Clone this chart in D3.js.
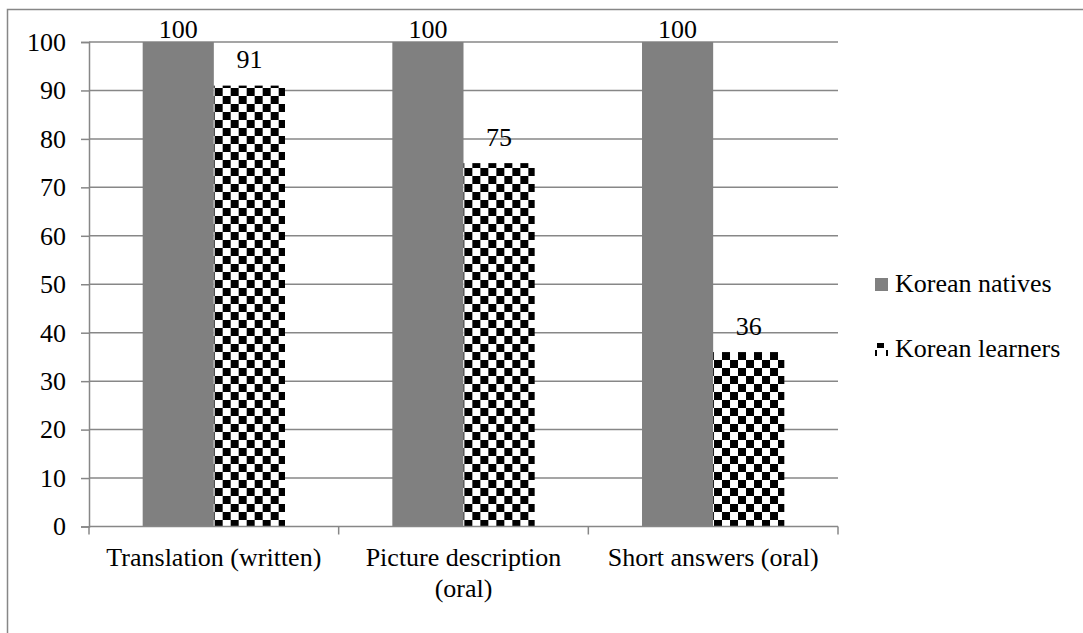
<!DOCTYPE html>
<html>
<head>
<meta charset="utf-8">
<script src="https://cdn.jsdelivr.net/npm/d3@7"></script>
<style>
  body { margin: 0; background: #fff; }
  svg text { font-family: "Liberation Serif", Tinos, "Times New Roman", Times, "DejaVu Serif", serif; fill: #000; }
</style>
</head>
<body>
<div id="viz"></div>
<script>
var categories = ["Translation (written)", "Picture description (oral)", "Short answers (oral)"];
var series = ["Korean natives", "Korean learners"];
var natives = [100, 100, 100];
var learners = [91, 75, 36];
var yTicks = [0, 10, 20, 30, 40, 50, 60, 70, 80, 90, 100];

var width = 1083,
    height = 633,
    fontSize = 26,
    serif = "'Liberation Serif', Tinos, 'Times New Roman', Times, 'DejaVu Serif', serif",
    grid = "#878787";

var plot = {left: 89, right: 838, top: 42, bottom: 526.5};

var svg = d3.select("#viz").append("svg")
    .attr("width", width)
    .attr("height", height)
    .attr("font-family", serif);

// checker pattern for learners
var defs = svg.append("defs");
var pat = defs.append("pattern")
    .attr("id", "checker")
    .attr("patternUnits", "userSpaceOnUse")
    .attr("width", 16)
    .attr("height", 16);
pat.append("rect").attr("width", 16).attr("height", 16).attr("fill", "#fff");
pat.append("rect").attr("width", 8).attr("height", 8).attr("fill", "#000");
pat.append("rect").attr("x", 8).attr("y", 8).attr("width", 8).attr("height", 8).attr("fill", "#000");

var legendPat = defs.append("pattern")
    .attr("id", "checkerLegend")
    .attr("patternUnits", "userSpaceOnUse")
    .attr("x", 875).attr("y", 343)
    .attr("width", 16)
    .attr("height", 16);
legendPat.append("rect").attr("width", 16).attr("height", 16).attr("fill", "#fff");
legendPat.append("rect").attr("width", 7).attr("height", 7).attr("fill", "#000");
legendPat.append("rect").attr("x", 7).attr("y", 7).attr("width", 7).attr("height", 7).attr("fill", "#000");

var fills = {"Korean natives": "#808080", "Korean learners": "url(#checker)"};
var legendFills = {"Korean natives": "#808080", "Korean learners": "url(#checkerLegend)"};

// outer chart border
svg.append("rect")
    .attr("x", 7.5).attr("y", 9.5)
    .attr("width", width + 10).attr("height", height + 10)
    .attr("fill", "none")
    .attr("stroke", grid)
    .attr("stroke-width", 1.5);

var y = d3.scaleLinear().domain([0, 100]).range([plot.bottom, plot.top]);

var x0 = d3.scaleBand()
    .domain(categories)
    .range([plot.left, plot.right])
    .paddingInner(0.43)
    .paddingOuter(0.215);

var x1 = d3.scaleBand()
    .domain(series)
    .range([0, x0.bandwidth()]);

// gridlines
svg.append("g")
    .selectAll("line")
    .data(yTicks.filter(function(d) { return d > 0; }))
    .enter().append("line")
    .attr("x1", plot.left)
    .attr("x2", plot.right)
    .attr("y1", function(d) { return y(d); })
    .attr("y2", function(d) { return y(d); })
    .attr("stroke", grid)
    .attr("stroke-width", 1.5);

// y axis
var yAxis = svg.append("g")
    .attr("transform", "translate(" + plot.left + ",0)")
    .call(d3.axisLeft(y).tickValues(yTicks).tickSize(8).tickPadding(15));
yAxis.attr("font-family", serif).attr("font-size", fontSize);
yAxis.select(".domain").attr("stroke", grid).attr("stroke-width", 1.5);
yAxis.selectAll(".tick line").attr("stroke", grid).attr("stroke-width", 1.5);
yAxis.selectAll(".tick text")
    .style("font-size", fontSize + "px")
    .attr("fill", "#000");

// bars
var rows = categories.map(function(c, i) {
    return {cat: c, vals: [{s: series[0], v: natives[i]}, {s: series[1], v: learners[i]}]};
});

var groups = svg.append("g")
    .selectAll("g")
    .data(rows)
    .enter().append("g")
    .attr("transform", function(d) { return "translate(" + x0(d.cat) + ",0)"; });

groups.selectAll("rect")
    .data(function(d) { return d.vals; })
    .enter().append("rect")
    .attr("x", function(d) { return x1(d.s); })
    .attr("y", function(d) { return y(d.v); })
    .attr("width", x1.bandwidth())
    .attr("height", function(d) { return y(0) - y(d.v); })
    .attr("fill", function(d) { return fills[d.s]; });

// value labels
groups.selectAll("text.val")
    .data(function(d) { return d.vals; })
    .enter().append("text")
    .attr("class", "val")
    .attr("x", function(d) { return x1(d.s) + x1.bandwidth() / 2; })
    .attr("y", function(d) { return Math.max(y(d.v) - 17.5, 38); })
    .attr("text-anchor", "middle")
    .style("font-size", fontSize + "px")
    .text(function(d) { return d.v; });

// x axis line and ticks
var step = x0.step();
svg.append("line")
    .attr("x1", plot.left).attr("x2", plot.right)
    .attr("y1", plot.bottom).attr("y2", plot.bottom)
    .attr("stroke", grid).attr("stroke-width", 1.5);
svg.append("g")
    .selectAll("line")
    .data(d3.range(categories.length + 1))
    .enter().append("line")
    .attr("x1", function(i) { return plot.left + i * step; })
    .attr("x2", function(i) { return plot.left + i * step; })
    .attr("y1", plot.bottom)
    .attr("y2", plot.bottom + 8)
    .attr("stroke", grid).attr("stroke-width", 1.5);

// category labels, wrapped to the category width
svg.append("g")
    .selectAll("text")
    .data(categories)
    .enter().append("text")
    .attr("x", function(d) { return x0(d) + x0.bandwidth() / 2; })
    .attr("y", 566)
    .attr("text-anchor", "middle")
    .style("font-size", fontSize + "px")
    .each(function(d) {
        var t = d3.select(this),
            words = d.split(" "),
            line = [],
            cx = t.attr("x"),
            tspan = t.append("tspan").attr("x", cx).attr("dy", 0);
        words.forEach(function(w) {
            line.push(w);
            tspan.text(line.join(" "));
            if (tspan.node().getComputedTextLength() > step - 10 && line.length > 1) {
                line.pop();
                tspan.text(line.join(" "));
                line = [w];
                tspan = t.append("tspan").attr("x", cx).attr("dy", 31).text(w);
            }
        });
    });

// legend
var legend = svg.append("g")
    .selectAll("g")
    .data(series)
    .enter().append("g")
    .attr("transform", function(d, i) { return "translate(875," + (278 + i * 65) + ")"; });

legend.append("rect")
    .attr("width", 13)
    .attr("height", 13)
    .attr("fill", function(d) { return legendFills[d]; });

legend.append("text")
    .attr("x", 20)
    .attr("y", 14)
    .style("font-size", fontSize + "px")
    .text(function(d) { return d; });
</script>
</body>
</html>
